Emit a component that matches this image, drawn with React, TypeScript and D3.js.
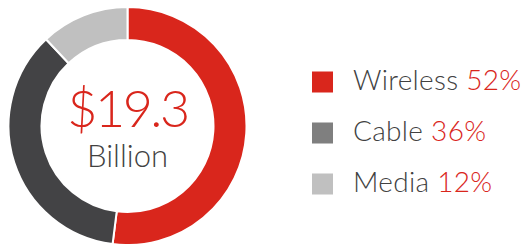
import React, { useEffect, useRef } from "react";
import * as d3 from "d3";

const segments = ["Wireless", "Cable", "Media"];
const shares = [52, 36, 12];
const ringColors = ["#d9261c", "#434345", "#c0c0c0"];
const keyColors = ["#d9261c", "#7f7f7f", "#c0c0c0"];
const total = "$19.3";
const unit = "Billion";

const App = () => {
  const ref = useRef<SVGSVGElement>(null);

  useEffect(() => {
    const svg = d3.select(ref.current);
    svg.selectAll("*").remove();

    const cx = 127.5, cy = 126;
    const outer = 119, inner = 86;

    const pie = d3.pie<number>().sort(null).value(d => d);
    const arc = d3.arc<d3.PieArcDatum<number>>().innerRadius(inner).outerRadius(outer);

    const ring = svg.append("g").attr("transform", `translate(${cx},${cy})`);
    ring.selectAll("path")
      .data(pie(shares))
      .enter()
      .append("path")
      .attr("d", arc)
      .attr("fill", (_, i) => ringColors[i])
      .attr("stroke", "#fff")
      .attr("stroke-width", 2);

    ring.append("text")
      .text(total)
      .attr("text-anchor", "middle")
      .attr("y", 1)
      .attr("font-size", 52)
      .attr("letter-spacing", -2.5)
      .attr("fill", "#d9261c");

    ring.append("text")
      .text(unit)
      .attr("text-anchor", "middle")
      .attr("y", 41)
      .attr("font-size", 31)
      .attr("fill", "#414141");

    const rowY = d3.scalePoint<string>().domain(segments).range([82, 184]);

    const rows = svg.selectAll(".key")
      .data(segments)
      .enter()
      .append("g")
      .attr("class", "key")
      .attr("transform", d => `translate(312,${rowY(d)})`);

    rows.append("rect")
      .attr("x", 0)
      .attr("y", -10.5)
      .attr("width", 21)
      .attr("height", 21)
      .attr("fill", (_, i) => keyColors[i]);

    const label = rows.append("text")
      .attr("x", 41)
      .attr("y", 7.5)
      .attr("font-size", 28)
      .attr("letter-spacing", 0.3);
    label.append("tspan").attr("fill", "#414141").text(d => d + " ");
    label.append("tspan").attr("fill", "#d9261c").text((_, i) => `${shares[i]}%`);
  }, []);

  return (
    <svg
      ref={ref}
      width={525}
      height={244}
      style={{ position: "absolute", left: 0, top: 0, fontFamily: "Lato", fontWeight: 300 }}
    />
  );
};

export default App;
